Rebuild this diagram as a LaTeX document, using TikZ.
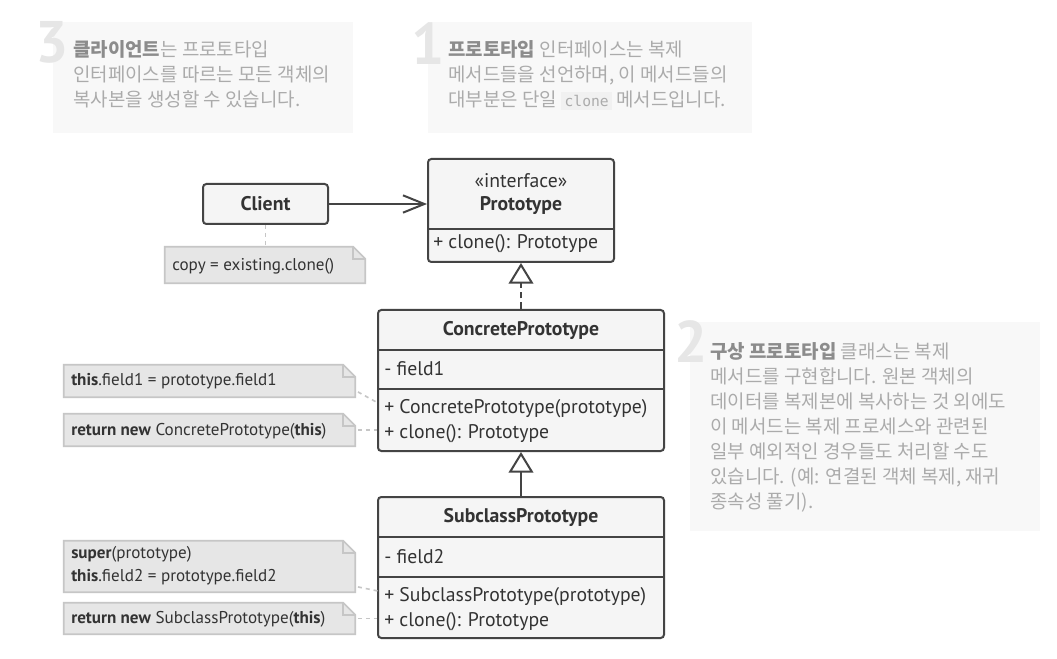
\documentclass[tikz,border=0pt]{standalone}
\usepackage{fontspec}
\setmainfont{PT Sans}
\newfontfamily\krfont{Noto Sans CJK KR}
\newfontfamily\codefont{DejaVu Sans Mono}
\usetikzlibrary{arrows.meta,fit}

\definecolor{linedark}{HTML}{444444}
\definecolor{boxfill}{HTML}{F5F5F5}
\definecolor{textdark}{HTML}{333333}
\definecolor{notefill}{HTML}{E6E6E6}
\definecolor{noteline}{HTML}{C6C6C6}
\definecolor{hintfill}{HTML}{F8F8F8}
\definecolor{hinttext}{HTML}{ABABAB}
\definecolor{hintbold}{HTML}{8C8C8C}
\definecolor{numgray}{HTML}{E6E6E6}
\definecolor{codefill}{HTML}{F1F1F1}

\newcommand{\codebit}[1]{{\setlength{\fboxsep}{2.5pt}\colorbox{codefill}{\codefont\fontsize{11}{12}\selectfont\color{hinttext}#1}}}

% folded note outline round a named node
\newcommand{\notefold}[1]{%
  \draw[notebox] (#1.south west) -- (#1.south east) -- ([yshift=-9pt]#1.north east)
    -- ([xshift=-9pt]#1.north east) -- (#1.north west) -- cycle;
  \draw[noteedge] ([xshift=-9pt]#1.north east) |- ([yshift=-9pt]#1.north east);}

\tikzset{
  classbox/.style={draw=linedark, fill=boxfill, line width=1.5pt, rounded corners=2.5pt, inner sep=0pt},
  classline/.style={draw=linedark, line width=1.5pt},
  classname/.style={font=\bfseries\fontsize{14.8}{17}\selectfont, text=textdark, inner sep=0pt},
  member/.style={font=\fontsize{14.8}{17}\selectfont, text=textdark, anchor=west, inner sep=0pt},
  noteframe/.style={inner sep=0pt},
  notebox/.style={draw=noteline, fill=notefill, line width=1.2pt},
  noteedge/.style={draw=noteline, line width=1.2pt},
  notetext/.style={font=\fontsize{12.8}{17.25}\selectfont, text=textdark, anchor=west, align=left, inner sep=0pt},
  notelink/.style={draw=noteline, line width=1.2pt, dash pattern=on 3pt off 3pt},
  assoc/.style={draw=linedark, line width=1.5pt, -{Straight Barb[length=16pt, width=13pt, line width=1.5pt]}},
  realize/.style={draw=linedark, line width=1.5pt, dash pattern=on 5pt off 3pt, -{Triangle[open, length=15.5pt, width=18.5pt, line width=1.5pt]}},
  inherit/.style={draw=linedark, line width=1.5pt, -{Triangle[open, length=15.5pt, width=18.5pt, line width=1.5pt]}},
  hintbox/.style={fill=hintfill, inner sep=0pt},
  hint/.style={font=\krfont\fontsize{14.2}{18.75}\selectfont, text=hinttext, align=left, anchor=north west, inner sep=0pt},
  hintnum/.style={font=\bfseries\fontsize{44}{44}\selectfont, text=numgray, inner sep=0pt},
}

\begin{document}
\begin{tikzpicture}[x=0.75pt, y=-0.75pt]
    \useasboundingbox[fill=white] (0,0) rectangle (1057,659);

    % Hints
    \node[hintbox, fit={(53,22) (353,133)}] (hint3) {};
    \node[hintnum] (num3) at (52,42) {3};
    \node[hint] (text3) at (73,40) {\textbf{\color{hintbold}클라이언트}는 프로토타입\\
        인터페이스를 따르는 모든 객체의\\복사본을 생성할 수 있습니다.};

    \node[hintbox, fit={(428,22) (752,133)}] (hint1) {};
    \node[hintnum] (num1) at (428,44) {1};
    \node[hint] (text1) at (448,40) {\textbf{\color{hintbold}프로토타입} 인터페이스는 복제\\
        메서드들을 선언하며, 이 메서드들의\\대부분은 단일 \codebit{clone} 메서드입니다.};

    \node[hintbox, fit={(690,322) (1040,531)}] (hint2) {};
    \node[hintnum] (num2) at (691,342) {2};
    \node[hint] (text2) at (710,342) {\textbf{\color{hintbold}구상 프로토타입} 클래스는 복제\\
        메서드를 구현합니다. 원본 객체의\\데이터를 복제본에 복사하는 것 외에도\\
        이 메서드는 복제 프로세스와 관련된\\일부 예외적인 경우들도 처리할 수도\\
        있습니다. (예: 연결된 객체 복제, 재귀\\종속성 풀기).};

    % Client
    \node[classbox, fit={(203,184) (328,224)}] (client) {};
    \node[classname] (clientname) at (client) {Client};

    \node[noteframe, fit={(165,247) (365,283)}] (copynote) {};
    \notefold{copynote}
    \node[notetext] (copytext) at (172,266) {copy = existing.clone()};
    \draw[notelink] (client.south) -- (copynote.north -| client.south);

    % Prototype interface
    \node[classbox, fit={(428,159) (614,262)}] (proto) {};
    \node[font=\fontsize{14.8}{17}\selectfont, text=textdark, inner sep=0pt] (stereo) at (521,181) {«interface»};
    \node[classname] (protoname) at (521,206) {Prototype};
    \draw[classline] (428,229) -- (614,229);
    \node[member] (protoclone) at (433,244) {+ clone(): Prototype};

    \draw[assoc] (client.east) -- (client.east -| proto.west);

    % ConcretePrototype
    \node[classbox, fit={(378,310) (664,451)}] (concrete) {};
    \node[classname] (concname) at (521,330) {ConcretePrototype};
    \draw[classline] (378,350) -- (664,350);
    \draw[classline] (378,389) -- (664,389);
    \node[member] (concfield) at (384,369) {- field1};
    \node[member] (concctor) at (384,409) {+ ConcretePrototype(prototype)};
    \node[member] (concclone) at (384,434) {+ clone(): Prototype};

    \draw[realize] (concrete.north) -- (proto.south);

    \node[noteframe, fit={(64,365) (355,397)}] (fieldnote) {};
    \notefold{fieldnote}
    \node[notetext] (fieldtext) at (71,381) {\textbf{this}.field1 = prototype.field1};

    \node[noteframe, fit={(64,414) (355,446)}] (concret) {};
    \notefold{concret}
    \node[notetext] (concrettext) at (71,431) {\textbf{return new} ConcretePrototype(\textbf{this})};

    \coordinate (concjoin) at (378,403);
    \draw[notelink] ([xshift=2pt, yshift=4pt]fieldnote.south east) -- (concjoin);
    \draw[notelink] ([xshift=2pt]concret.east) -- (concret.east -| concrete.west);

    % SubclassPrototype
    \node[classbox, fit={(378,497) (664,638)}] (subclass) {};
    \node[classname] (subname) at (521,517) {SubclassPrototype};
    \draw[classline] (378,537) -- (664,537);
    \draw[classline] (378,577) -- (664,577);
    \node[member] (subfield) at (384,557) {- field2};
    \node[member] (subctor) at (384,597) {+ SubclassPrototype(prototype)};
    \node[member] (subclone) at (384,622) {+ clone(): Prototype};

    \draw[inherit] (subclass.north) -- (concrete.south);

    \node[noteframe, fit={(64,541) (355,592)}] (supernote) {};
    \notefold{supernote}
    \node[notetext] (supertext) at (71,565.5) {\textbf{super}(prototype)\\\textbf{this}.field2 = prototype.field2};

    \node[noteframe, fit={(64,603) (355,634)}] (subret) {};
    \notefold{subret}
    \node[notetext] (subrettext) at (71,619) {\textbf{return new} SubclassPrototype(\textbf{this})};

    \coordinate (subjoin) at (378,591);
    \draw[notelink] ([xshift=2pt, yshift=4pt]supernote.south east) -- (subjoin);
    \draw[notelink] ([xshift=2pt]subret.east) -- (subret.east -| subclass.west);
\end{tikzpicture}
\end{document}
